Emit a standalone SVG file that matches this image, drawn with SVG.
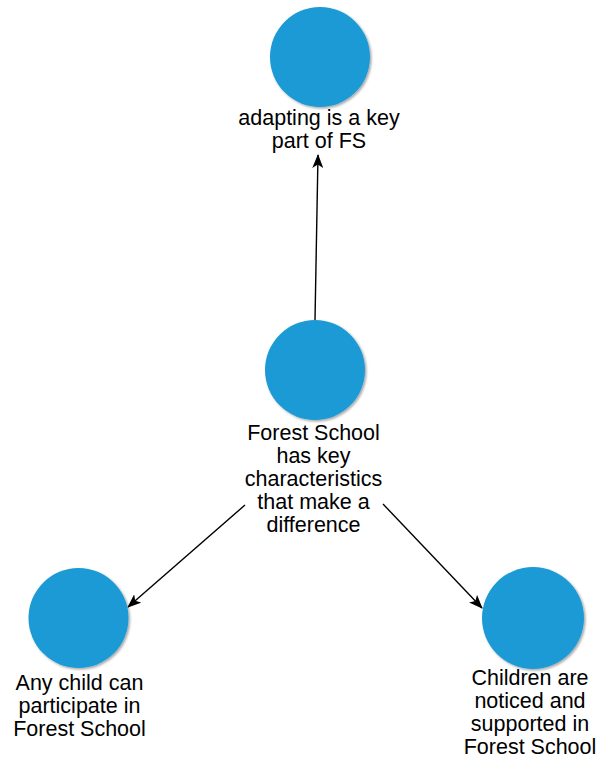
<svg xmlns="http://www.w3.org/2000/svg" width="598" height="759" viewBox="0 0 598 759">
  <style>
    .node circle { fill: #1b9ad6; filter: url(#shadow); }
    .node text { font-family: "Liberation Sans", Arial, sans-serif; font-size: 21.5px; fill: #000; text-anchor: middle; }
    .edge { stroke: #000; stroke-width: 1.4; fill: none; marker-end: url(#arrow); }
  </style>
  <defs>
    <filter id="shadow" x="-20%" y="-20%" width="150%" height="150%">
      <feDropShadow dx="1.5" dy="1.5" stdDeviation="1" flood-color="#000" flood-opacity="0.35"/>
    </filter>
    <marker id="arrow" viewBox="0 0 14 11" refX="13" refY="5.5" markerWidth="14" markerHeight="11" markerUnits="userSpaceOnUse" orient="auto">
      <path d="M0,0 L14,5.5 L0,11 L3.5,5.5 z" fill="#000"/>
    </marker>
  </defs>
  <rect width="598" height="759" fill="#fff"/>
  <g id="connectors">
    <line class="edge" x1="315" y1="320" x2="318" y2="155"/>
    <line class="edge" x1="245" y1="505" x2="128" y2="607"/>
    <line class="edge" x1="383" y1="504" x2="482" y2="608"/>
  </g>
  <g id="node-top" class="node">
    <circle cx="320" cy="57" r="50"/>
    <text x="319" y="125">adapting is a key</text>
    <text x="319" y="148">part of FS</text>
  </g>
  <g id="node-center" class="node">
    <circle cx="315" cy="370" r="50"/>
    <text x="313.5" y="440">Forest School</text>
    <text x="313.5" y="463">has key</text>
    <text x="313.5" y="486">characteristics</text>
    <text x="313.5" y="509">that make a</text>
    <text x="313.5" y="532">difference</text>
  </g>
  <g id="node-left" class="node">
    <circle cx="78.5" cy="618" r="50"/>
    <text x="79.5" y="690">Any child can</text>
    <text x="79.5" y="713">participate in</text>
    <text x="79.5" y="736">Forest School</text>
  </g>
  <g id="node-right" class="node">
    <circle cx="533" cy="618" r="51"/>
    <text x="530" y="685">Children are</text>
    <text x="530" y="708">noticed and</text>
    <text x="530" y="731">supported in</text>
    <text x="530" y="754">Forest School</text>
  </g>
</svg>
